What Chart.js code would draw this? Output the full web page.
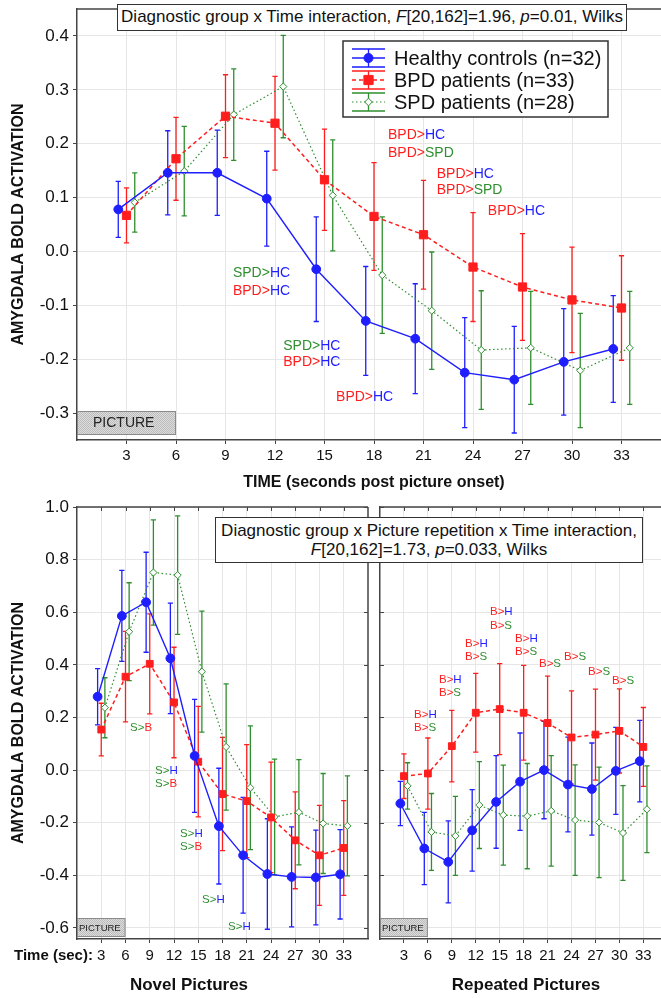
<!DOCTYPE html>
<html><head><meta charset="utf-8">
<script src="https://cdn.jsdelivr.net/npm/chart.js@4/dist/chart.umd.min.js"></script>
<style>
html,body{margin:0;padding:0;width:661px;height:998px;overflow:hidden;background:#fff;}
canvas{position:absolute;}
.tbox{position:absolute;background:#fff;border:1.5px solid #333;font-family:'Liberation Sans',Arial,sans-serif;color:#111;text-align:center;box-sizing:border-box;white-space:nowrap;}
</style></head><body>
<canvas id="top" width="700" height="520" style="left:0;top:-20px"></canvas>
<canvas id="novel" width="390" height="518" style="left:0;top:480px"></canvas>
<canvas id="rep" width="320" height="518" style="left:370px;top:480px"></canvas>
<div class="tbox" style="left:117px;top:4px;width:510px;height:27px;font-size:17px;line-height:24px">Diagnostic group x Time interaction, <i>F</i>[20,162]=1.96, <i>p</i>=0.01, Wilks</div>
<div class="tbox" style="left:215px;top:517px;width:428px;height:46px;font-size:17px;line-height:19px;padding-top:3px">Diagnostic group x Picture repetition x Time interaction,<br><i>F</i>[20,162]=1.73, <i>p</i>=0.033, Wilks</div>
<script>
const FONT = "'Liberation Sans', Arial, Helvetica, sans-serif";
const BLUE = '#1e1eff', RED = '#ff1e1e', GREEN = '#2f8f2f';

// ---- categories / ticks ----
const times = [3, 6, 9, 12, 15, 18, 21, 24, 27, 30, 33];
const yTicksTop = [-0.3, -0.2, -0.1, 0, 0.1, 0.2, 0.3, 0.4];
const yTicksBottom = [-0.6, -0.4, -0.2, 0, 0.2, 0.4, 0.6, 0.8, 1.0];
const seriesNames = ['Healthy controls (n=32)', 'BPD patients (n=33)', 'SPD patients (n=28)'];

// ---- top panel: all pictures ----
const hcTop     = [0.078, 0.146, 0.146, 0.098, -0.033, -0.129, -0.162, -0.225, -0.238, -0.205, -0.181];
const hcTopErr  = [0.052, 0.078, 0.079, 0.088, 0.097, 0.101, 0.102, 0.102, 0.099, 0.099, 0.099];
const bpdTop    = [0.067, 0.172, 0.251, 0.238, 0.133, 0.065, 0.031, -0.029, -0.066, -0.090, -0.105];
const bpdTopErr = [0.051, 0.077, 0.077, 0.087, 0.094, 0.100, 0.101, 0.101, 0.099, 0.098, 0.097];
const spdTop    = [0.091, 0.149, 0.254, 0.306, 0.104, -0.044, -0.110, -0.183, -0.179, -0.221, -0.179];
const spdTopErr = [0.055, 0.083, 0.085, 0.095, 0.103, 0.108, 0.109, 0.110, 0.105, 0.106, 0.105];

// ---- bottom left: novel pictures ----
const hcNovel     = [0.279, 0.586, 0.638, 0.425, 0.054, -0.213, -0.324, -0.395, -0.406, -0.408, -0.396];
const hcNovelErr  = [0.107, 0.173, 0.190, 0.210, 0.215, 0.220, 0.220, 0.210, 0.190, 0.180, 0.170];
const bpdNovel    = [0.154, 0.355, 0.404, 0.257, 0.032, -0.091, -0.118, -0.180, -0.267, -0.324, -0.296];
const bpdNovelErr = [0.100, 0.172, 0.190, 0.210, 0.210, 0.215, 0.215, 0.210, 0.184, 0.190, 0.180];
const spdNovel    = [0.237, 0.526, 0.751, 0.741, 0.374, 0.088, -0.067, -0.178, -0.160, -0.203, -0.212];
const spdNovelErr = [0.114, 0.186, 0.200, 0.225, 0.230, 0.240, 0.235, 0.220, 0.200, 0.190, 0.190];

// ---- bottom right: repeated pictures ----
const hcRep     = [-0.127, -0.298, -0.349, -0.229, -0.121, -0.044, 0.000, -0.055, -0.072, -0.003, 0.034];
const hcRepErr  = [0.084, 0.137, 0.156, 0.155, 0.176, 0.185, 0.185, 0.180, 0.175, 0.165, 0.155];
const bpdRep    = [-0.023, -0.013, 0.091, 0.218, 0.232, 0.218, 0.179, 0.124, 0.135, 0.149, 0.088];
const bpdRepErr = [0.085, 0.135, 0.136, 0.150, 0.173, 0.180, 0.178, 0.177, 0.173, 0.160, 0.150];
const spdRep    = [-0.060, -0.235, -0.250, -0.133, -0.171, -0.175, -0.155, -0.190, -0.199, -0.239, -0.149];
const spdRepErr = [0.088, 0.146, 0.150, 0.165, 0.190, 0.200, 0.210, 0.210, 0.210, 0.180, 0.165];

// ---- significance annotations (data coordinates) ----
const annTop = [
  {x: 18.85, y: 0.215, t: [['BPD>', RED], ['HC', BLUE]]},
  {x: 18.85, y: 0.183, t: [['BPD>', RED], ['SPD', GREEN]]},
  {x: 21.8, y: 0.144, t: [['BPD>', RED], ['HC', BLUE]]},
  {x: 21.8, y: 0.113, t: [['BPD>', RED], ['SPD', GREEN]]},
  {x: 24.9, y: 0.074, t: [['BPD>', RED], ['HC', BLUE]]},
  {x: 9.45, y: -0.041, t: [['SPD>', GREEN], ['HC', BLUE]]},
  {x: 9.45, y: -0.074, t: [['BPD>', RED], ['HC', BLUE]]},
  {x: 12.5, y: -0.176, t: [['SPD>', GREEN], ['HC', BLUE]]},
  {x: 12.5, y: -0.206, t: [['BPD>', RED], ['HC', BLUE]]},
  {x: 15.7, y: -0.270, t: [['BPD>', RED], ['HC', BLUE]]}
];
const annNovel = [
  {x: 6.56, y: 0.160, t: [['S>', GREEN], ['B', RED]]},
  {x: 9.65, y: -0.004, t: [['S>', GREEN], ['H', BLUE]]},
  {x: 9.65, y: -0.053, t: [['S>', GREEN], ['B', RED]]},
  {x: 12.75, y: -0.243, t: [['S>', GREEN], ['H', BLUE]]},
  {x: 12.75, y: -0.293, t: [['S>', GREEN], ['B', RED]]},
  {x: 15.47, y: -0.494, t: [['S>', GREEN], ['H', BLUE]]},
  {x: 18.69, y: -0.597, t: [['S>', GREEN], ['H', BLUE]]}
];
const annRep = [
  {x: 4.26, y: 0.209, t: [['B>', RED], ['H', BLUE]]},
  {x: 4.26, y: 0.160, t: [['B>', RED], ['S', GREEN]]},
  {x: 7.39, y: 0.342, t: [['B>', RED], ['H', BLUE]]},
  {x: 7.39, y: 0.293, t: [['B>', RED], ['S', GREEN]]},
  {x: 10.65, y: 0.479, t: [['B>', RED], ['H', BLUE]]},
  {x: 10.65, y: 0.430, t: [['B>', RED], ['S', GREEN]]},
  {x: 13.78, y: 0.601, t: [['B>', RED], ['H', BLUE]]},
  {x: 13.78, y: 0.548, t: [['B>', RED], ['S', GREEN]]},
  {x: 16.92, y: 0.498, t: [['B>', RED], ['H', BLUE]]},
  {x: 16.92, y: 0.449, t: [['B>', RED], ['S', GREEN]]},
  {x: 19.92, y: 0.403, t: [['B>', RED], ['S', GREEN]]},
  {x: 23.06, y: 0.430, t: [['B>', RED], ['S', GREEN]]},
  {x: 26.07, y: 0.373, t: [['B>', RED], ['S', GREEN]]},
  {x: 29.07, y: 0.338, t: [['B>', RED], ['S', GREEN]]}
];

// ---- helpers ----
function hatch(ctx) {
  const c = document.createElement('canvas'); c.width = 2; c.height = 2;
  const g = c.getContext('2d');
  g.fillStyle = '#dcdcdc'; g.fillRect(0, 0, 2, 2);
  g.fillStyle = '#bcbcbc'; g.fillRect(0, 0, 1, 1); g.fillRect(1, 1, 1, 1);
  return ctx.createPattern(c, 'repeat');
}
function marker(ctx, style, x, y, r, color, fill) {
  ctx.save(); ctx.setLineDash([]); ctx.lineWidth = 1; ctx.strokeStyle = color; ctx.fillStyle = fill;
  ctx.beginPath();
  if (style === 'circle') ctx.arc(x, y, r, 0, Math.PI * 2);
  else if (style === 'rect') { const s = r * Math.SQRT1_2; ctx.rect(x - s, y - s, 2 * s, 2 * s); }
  else { ctx.moveTo(x, y - r); ctx.lineTo(x + r, y); ctx.lineTo(x, y + r); ctx.lineTo(x - r, y); ctx.closePath(); }
  ctx.fill(); ctx.stroke(); ctx.restore();
}
function drawAnn(chart, list, size) {
  const ctx = chart.ctx, xs = chart.scales.x, ys = chart.scales.y;
  ctx.save(); ctx.font = size + 'px ' + FONT; ctx.textBaseline = 'middle'; ctx.textAlign = 'left';
  list.forEach(a => {
    let x = xs.getPixelForValue(a.x); const y = ys.getPixelForValue(a.y);
    a.t.forEach(([s, c]) => { ctx.fillStyle = c; ctx.fillText(s, x, y); x += ctx.measureText(s).width; });
  });
  ctx.restore();
}
function pictureBox(chart, h, gap, size, tx) {
  const ctx = chart.ctx, xs = chart.scales.x, a = chart.chartArea;
  const x0 = xs.getPixelForValue(0), x1 = xs.getPixelForValue(6);
  const y1 = a.bottom - gap, y0 = y1 - h;
  ctx.save();
  ctx.fillStyle = hatch(ctx); ctx.fillRect(x0, y0, x1 - x0, h);
  ctx.strokeStyle = '#8a8a8a'; ctx.lineWidth = 1; ctx.strokeRect(x0 + 0.5, y0 + 0.5, x1 - x0 - 1, h - 1);
  ctx.fillStyle = '#222'; ctx.font = size + 'px ' + FONT; ctx.textBaseline = 'middle'; ctx.textAlign = 'left';
  ctx.fillText('PICTURE', x0 + tx, (y0 + y1) / 2 + 0.5);
  ctx.restore();
}

function makeChart(id, o) {
  const datasets = o.series.map(s => ({
    data: s.vals.map((v, i) => ({x: times[i] + s.off, y: v})),
    borderColor: s.color, backgroundColor: s.fill, borderWidth: s.lw, borderDash: s.dash,
    pointStyle: s.style, pointRadius: s.r, pointHoverRadius: s.r, pointBorderColor: s.color,
    pointBackgroundColor: s.fill, pointBorderWidth: 1, tension: 0, fill: false
  }));
  const plugin = {
    id: 'extra_' + id,
    beforeDatasetsDraw(chart) {
      const ctx = chart.ctx, ys = chart.scales.y;
      o.series.forEach((s, i) => {
        const meta = chart.getDatasetMeta(i);
        ctx.save(); ctx.strokeStyle = s.color; ctx.lineWidth = 1.3; ctx.setLineDash([]);
        meta.data.forEach((p, j) => {
          const v = s.vals[j], e = s.err[j];
          const y1 = ys.getPixelForValue(v + e), y2 = ys.getPixelForValue(v - e), c = 2.6;
          ctx.beginPath();
          ctx.moveTo(p.x, y1); ctx.lineTo(p.x, y2);
          ctx.moveTo(p.x - c, y1); ctx.lineTo(p.x + c, y1);
          ctx.moveTo(p.x - c, y2); ctx.lineTo(p.x + c, y2);
          ctx.stroke();
        });
        ctx.restore();
      });
    },
    afterDraw(chart) { o.after(chart); }
  };
  const yScale = {
    type: 'linear', min: o.ymin, max: o.ymax,
    afterFit: s => { s.width = o.yw; },
    afterBuildTicks: s => { s.ticks = o.yticks.map(v => ({value: v})); },
    ticks: {display: o.yLabels, font: {family: FONT, size: 17}, color: '#111', padding: 4, callback: v => Number(v).toFixed(1)},
    grid: {color: '#e6e6e6', lineWidth: 1, tickColor: '#444', tickLength: 4, drawTicks: o.yLabels},
    border: {display: true, color: '#444', width: 1.5},
    title: o.yTitle ? {display: true, text: 'AMYGDALA BOLD ACTIVATION', color: '#111', font: {family: FONT, size: 16, weight: 'bold'}, padding: {top: 9, bottom: 0}} : {display: false}
  };
  const xScale = {
    type: 'linear', min: 0, max: 36,
    afterFit: s => { s.height = o.xh; },
    afterBuildTicks: s => { s.ticks = times.map(v => ({value: v})); },
    ticks: {font: {family: FONT, size: 15}, color: '#111', padding: o.xpad, maxRotation: 0, autoSkip: false, callback: v => String(v)},
    grid: {color: '#e6e6e6', lineWidth: 1, tickColor: '#444', tickLength: 4},
    border: {display: true, color: '#444', width: 1.5},
    title: o.xTitle ? {display: true, text: o.xTitle, color: '#111', font: {family: FONT, size: 16, weight: 'bold'}, padding: {top: 2, bottom: 8}} : {display: false}
  };
  return new Chart(document.getElementById(id), {
    type: 'line',
    data: {datasets},
    options: {
      responsive: false, animation: false, devicePixelRatio: 1, events: [],
      layout: {padding: o.pad},
      plugins: {legend: {display: false}, tooltip: {enabled: false}},
      scales: {x: xScale, y: yScale}
    },
    plugins: [plugin]
  });
}

function seriesSet(hc, hcE, bpd, bpdE, spd, spdE, off, sq) {
  return [
    {vals: hc, err: hcE, off: -off, color: BLUE, fill: BLUE, lw: 1.4, dash: [], style: 'circle', r: 4.4},
    {vals: bpd, err: bpdE, off: 0, color: RED, fill: RED, lw: 1.5, dash: [4, 3], style: 'rect', r: sq},
    {vals: spd, err: spdE, off: off, color: GREEN, fill: '#ffffff', lw: 1.2, dash: [1.5, 2.5], style: 'rectRot', r: 3.6}
  ];
}

function frameLine(ctx, x0, y0, x1, y1) {
  ctx.save(); ctx.strokeStyle = '#444'; ctx.lineWidth = 1.5; ctx.setLineDash([]);
  ctx.beginPath(); ctx.moveTo(x0, y0); ctx.lineTo(x1, y1); ctx.stroke(); ctx.restore();
}
function innerTicks(chart, top, side) {
  const ctx = chart.ctx, a = chart.chartArea, xs = chart.scales.x, ys = chart.scales.y;
  ctx.save(); ctx.strokeStyle = '#444'; ctx.lineWidth = 1; ctx.beginPath();
  if (top) times.forEach(t => { const x = Math.round(xs.getPixelForValue(t)) + 0.5; ctx.moveTo(x, a.top); ctx.lineTo(x, a.top + 4); });
  if (side === 'right') yTicksBottom.forEach(v => { const y = Math.round(ys.getPixelForValue(v)) + 0.5; ctx.moveTo(a.right, y); ctx.lineTo(a.right - 4, y); });
  if (side === 'left') yTicksBottom.forEach(v => { const y = Math.round(ys.getPixelForValue(v)) + 0.5; ctx.moveTo(a.left, y); ctx.lineTo(a.left + 4, y); });
  ctx.stroke(); ctx.restore();
}

// ---- top chart ----
const topSeries = seriesSet(hcTop, hcTopErr, bpdTop, bpdTopErr, spdTop, spdTopErr, 0.5, 5.8);
makeChart('top', {
  series: topSeries, ymin: -0.35, ymax: 0.45, yticks: yTicksTop, yw: 77, xh: 60, xpad: 3,
  pad: {top: 29, right: 29, left: 0, bottom: 0}, yLabels: true, yTitle: true,
  xTitle: 'TIME (seconds post picture onset)',
  after(chart) {
    const ctx = chart.ctx, a = chart.chartArea;
    frameLine(ctx, a.left, a.top, a.right, a.top);
    pictureBox(chart, 24, 5, 14, 16);
    drawAnn(chart, annTop, 14);
    // legend
    const dy = 20;
    ctx.save();
    ctx.fillStyle = '#fff'; ctx.strokeStyle = '#333'; ctx.lineWidth = 1.5;
    ctx.fillRect(343, 41 + dy, 265, 76); ctx.strokeRect(343, 41 + dy, 265, 76);
    topSeries.forEach((s, k) => {
      const cy = 58 + 22 * k + dy, x0 = 352, x1 = 385, cx = 368.5;
      ctx.strokeStyle = s.color; ctx.lineWidth = 1.3; ctx.setLineDash([]);
      ctx.beginPath();
      ctx.moveTo(x0, cy - 9); ctx.lineTo(x1, cy - 9);
      ctx.moveTo(x0, cy + 9); ctx.lineTo(x1, cy + 9);
      ctx.moveTo(cx, cy - 9); ctx.lineTo(cx, cy + 9);
      ctx.stroke();
      ctx.setLineDash(s.dash); ctx.lineWidth = s.lw;
      ctx.beginPath(); ctx.moveTo(x0, cy); ctx.lineTo(x1, cy); ctx.stroke(); ctx.setLineDash([]);
      marker(ctx, s.style, cx, cy, s.style === 'rect' ? 6.5 : (s.style === 'circle' ? 4.5 : 3.8), s.color, s.fill);
      ctx.fillStyle = '#111'; ctx.font = '20px ' + FONT; ctx.textBaseline = 'middle'; ctx.textAlign = 'left';
      ctx.fillText(seriesNames[k], 394, cy + 1);
    });
    ctx.restore();
  }
});

// ---- bottom left: novel ----
makeChart('novel', {
  series: seriesSet(hcNovel, hcNovelErr, bpdNovel, bpdNovelErr, spdNovel, spdNovelErr, 0.45, 4.8),
  ymin: -0.642, ymax: 1.0, yticks: yTicksBottom, yw: 77, xh: 59, xpad: 4,
  pad: {top: 27, right: 22, left: 0, bottom: 0}, yLabels: true, yTitle: true, xTitle: null,
  after(chart) {
    const ctx = chart.ctx, a = chart.chartArea;
    frameLine(ctx, a.left, a.top, a.right, a.top);
    frameLine(ctx, a.right, a.top, a.right, a.bottom);
    innerTicks(chart, true, 'right');
    pictureBox(chart, 19, 2, 9.5, 2);
    drawAnn(chart, annNovel, 11.5);
    ctx.save(); ctx.fillStyle = '#111'; ctx.textBaseline = 'middle';
    ctx.font = 'bold 15px ' + FONT; ctx.textAlign = 'left'; ctx.fillText('Time (sec):', 14, 476);
    ctx.font = 'bold 17px ' + FONT; ctx.textAlign = 'center'; ctx.fillText('Novel Pictures', 189, 505);
    ctx.restore();
  }
});

// ---- bottom right: repeated ----
makeChart('rep', {
  series: seriesSet(hcRep, hcRepErr, bpdRep, bpdRepErr, spdRep, spdRepErr, 0.45, 4.8),
  ymin: -0.642, ymax: 1.0, yticks: yTicksBottom, yw: 10, xh: 59, xpad: 4,
  pad: {top: 27, right: 22.7, left: 0, bottom: 0}, yLabels: false, yTitle: false, xTitle: null,
  after(chart) {
    const ctx = chart.ctx, a = chart.chartArea;
    frameLine(ctx, a.left, a.top, a.right, a.top);
    innerTicks(chart, true, 'left');
    pictureBox(chart, 19, 2, 9.5, 2);
    drawAnn(chart, annRep, 11.5);
    ctx.save(); ctx.fillStyle = '#111'; ctx.textBaseline = 'middle';
    ctx.font = 'bold 17px ' + FONT; ctx.textAlign = 'center'; ctx.fillText('Repeated Pictures', 156, 505);
    ctx.restore();
  }
});
</script>
</body></html>
